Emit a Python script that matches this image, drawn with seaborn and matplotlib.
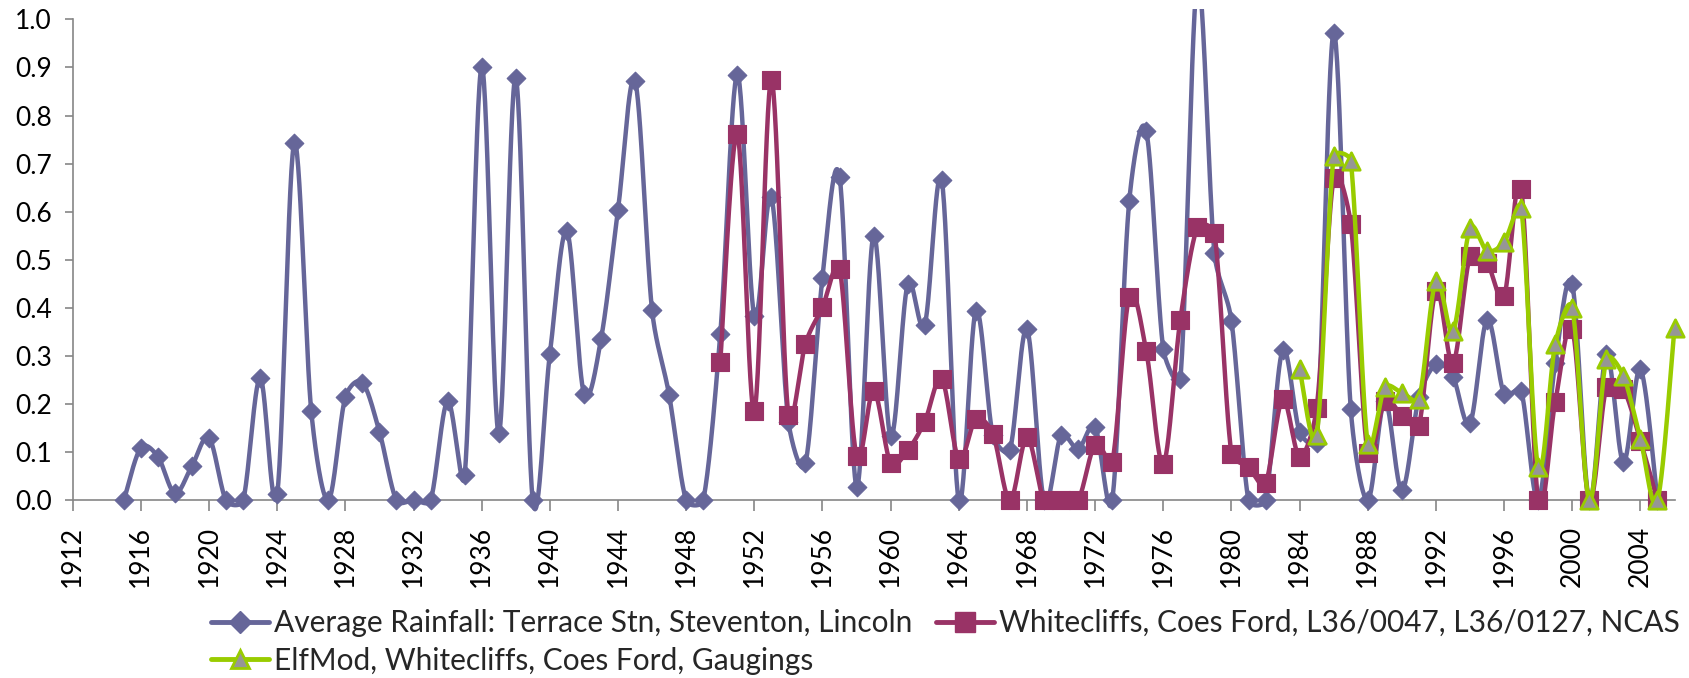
import numpy as np
import matplotlib
matplotlib.use("Agg")
import matplotlib.pyplot as plt
from matplotlib.lines import Line2D
import seaborn as sns
import pandas as pd

# ---------------- data ----------------
rain_label = "Average Rainfall: Terrace Stn, Steventon, Lincoln"
rain_years = list(range(1915, 2006))
rain_values = [
    0.0, 0.11, 0.091, 0.015, 0.072,                                   # 1915-1919
    0.13, 0.0, 0.0, 0.255, 0.014, 0.742, 0.185, 0.0, 0.215, 0.245,     # 1920s
    0.143, 0.0, 0.0, 0.0, 0.207, 0.052, 0.901, 0.14, 0.878, 0.0,       # 1930s
    0.304, 0.56, 0.222, 0.335, 0.604, 0.872, 0.395, 0.219, 0.0, 0.0,   # 1940s
    0.345, 0.885, 0.383, 0.63, 0.164, 0.077, 0.463, 0.673, 0.029, 0.55,  # 1950s
    0.133, 0.45, 0.365, 0.665, 0.0, 0.394, 0.135, 0.105, 0.356, 0.0,   # 1960s
    0.135, 0.107, 0.152, 0.0, 0.622, 0.768, 0.314, 0.252, 1.08, 0.514, # 1970s
    0.373, 0.0, 0.0, 0.312, 0.142, 0.12, 0.972, 0.19, 0.0, 0.207,      # 1980s
    0.021, 0.214, 0.283, 0.257, 0.16, 0.376, 0.221, 0.228, 0.0, 0.285, # 1990s
    0.449, 0.0, 0.304, 0.079, 0.273, 0.0,                              # 2000-2005
]

wc_label = "Whitecliffs, Coes Ford, L36/0047, L36/0127, NCAS"
wc_years = list(range(1950, 2006))
wc_values = [
    0.287, 0.761, 0.186, 0.874, 0.177, 0.326, 0.402, 0.482, 0.093, 0.228,  # 1950s
    0.077, 0.104, 0.164, 0.252, 0.086, 0.169, 0.138, 0.0, 0.131, 0.0,      # 1960s
    0.0, 0.0, 0.116, 0.079, 0.423, 0.31, 0.076, 0.376, 0.568, 0.556,       # 1970s
    0.097, 0.069, 0.036, 0.21, 0.091, 0.192, 0.67, 0.575, 0.098, 0.207,    # 1980s
    0.176, 0.155, 0.436, 0.285, 0.508, 0.494, 0.425, 0.647, 0.0, 0.205,    # 1990s
    0.356, 0.0, 0.235, 0.231, 0.124, 0.0,                                  # 2000-2005
]

elf_label = "ElfMod, Whitecliffs, Coes Ford, Gaugings"
elf_years = list(range(1984, 2007))
elf_values = [
    0.273, 0.135, 0.715, 0.706, 0.117, 0.235,                          # 1984-1989
    0.224, 0.21, 0.457, 0.352, 0.566, 0.519, 0.537, 0.608, 0.069, 0.325,  # 1990s
    0.4, 0.0, 0.294, 0.259, 0.128, 0.0, 0.359,                         # 2000-2006
]

x_ticks = list(range(1912, 2005, 4))
y_ticks = [round(i * 0.1, 1) for i in range(11)]

# ---------------- style ----------------
sns.set_style("white")
plt.rcParams["font.family"] = ["Lato", "DejaVu Sans"]

BLUE = "#666699"
RED = "#993366"
GREEN = "#99CC00"
GRAY = "#969696"
AXIS = "#868686"

PX_X = 17.04   # screen pixels per year
PX_Y = 481.2   # screen pixels per unit


def smooth(xs, ys, n=30, cap=0.4):
    """Excel-like smoothed line: Catmull-Rom Bezier, arms limited by segment length."""
    p = np.column_stack([np.asarray(xs, float) * PX_X, np.asarray(ys, float) * PX_Y])
    m = len(p)
    out = []
    for i in range(m - 1):
        p0 = p[i - 1] if i > 0 else p[i]
        p1 = p[i]
        p2 = p[i + 1]
        p3 = p[i + 2] if i + 2 < m else p[i + 1]
        L = np.linalg.norm(p2 - p1)
        a1 = (p2 - p0) / 6.0
        a2 = (p3 - p1) / 6.0
        for a in (a1, a2):
            na = np.linalg.norm(a)
            if na > cap * L and na > 0:
                a *= cap * L / na
        c1 = p1 + a1
        c2 = p2 - a2
        t = np.linspace(0, 1, n, endpoint=(i == m - 2))[:, None]
        seg = ((1 - t) ** 3) * p1 + 3 * ((1 - t) ** 2) * t * c1 + 3 * (1 - t) * t ** 2 * c2 + t ** 3 * p2
        out.append(seg)
    s = np.vstack(out)
    return pd.DataFrame({"x": s[:, 0] / PX_X, "y": s[:, 1] / PX_Y})


fig = plt.figure(figsize=(16.89, 6.78), dpi=100)
ax = fig.add_axes([72.7 / 1689, 1 - 519.7 / 678, 1 - 72.7 / 1689, (519.7 - 9) / 678])

series = [
    (rain_years, rain_values, BLUE, "D", 9.5, BLUE, BLUE, 0.8, 3),
    (wc_years, wc_values, RED, "s", 13.0, RED, RED, 0.8, 5),
    (elf_years, elf_values, GREEN, "^", 12.5, GRAY, GREEN, 2.0, 7),
]

for yrs, vals, col, mk, ms, fc, ec, ew, z in series:
    sm = smooth(yrs, vals)
    sns.lineplot(data=sm, x="x", y="y", sort=False, estimator=None, color=col,
                 lw=3.2, ax=ax, zorder=z, legend=False)
    sns.scatterplot(x=yrs, y=vals, marker=mk, s=ms ** 2, color=fc, edgecolor=ec,
                    linewidth=ew, ax=ax, zorder=z + 1, legend=False)

ax.set_xlim(1912, 2006.85)
ax.set_ylim(-0.04, 1.0214)
ax.set_xlabel("")
ax.set_ylabel("")

for side in ["top", "right"]:
    ax.spines[side].set_visible(False)
ax.spines["bottom"].set_position(("data", 0))
ax.spines["left"].set_bounds(0, 1.0)
ax.spines["bottom"].set_bounds(1912, 2006)
for side in ["left", "bottom"]:
    ax.spines[side].set_color(AXIS)
    ax.spines[side].set_linewidth(1.2)

ax.set_xticks(x_ticks)
ax.set_xticklabels([str(v) for v in x_ticks], rotation=90, fontsize=19)
ax.set_yticks(y_ticks)
ax.set_yticklabels([f"{v:.1f}" for v in y_ticks], fontsize=19)

ax.tick_params(axis="x", direction="out", length=7.7, width=1.2, color=AXIS, pad=10.5,
               labelcolor="black", bottom=True)
ax.tick_params(axis="y", direction="out", length=6, width=1.2, color=AXIS, pad=9,
               labelcolor="black", left=True)
ax.grid(False)

handles = [
    Line2D([0], [0], color=BLUE, lw=3.5, marker="D", ms=11.5, mfc=BLUE, mec=BLUE),
    Line2D([0], [0], color=GREEN, lw=3.5, marker="^", ms=13, mfc=GRAY, mec=GREEN, mew=2),
    Line2D([0], [0], color=RED, lw=3.5, marker="s", ms=14, mfc=RED, mec=RED),
]
labels = [rain_label, elf_label, wc_label]
fig.legend(handles, labels, ncol=2, loc="upper left",
           bbox_to_anchor=(211 / 1689, 1 - 609 / 678), frameon=False, fontsize=21.5,
           handlelength=1.94, handletextpad=0.18, columnspacing=0.77,
           labelspacing=0.32, borderpad=0, borderaxespad=0)

fig.savefig("out.png", dpi=100)
